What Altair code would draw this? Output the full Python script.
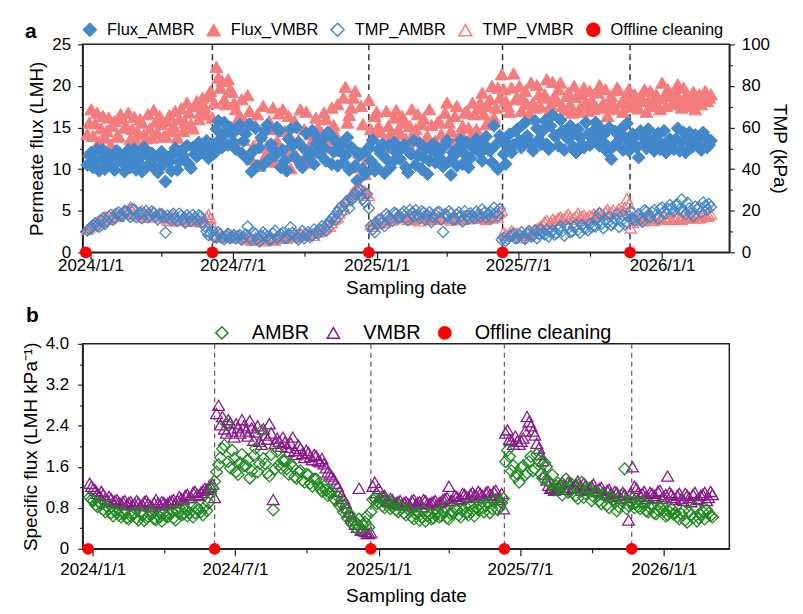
import altair as alt
import pandas as pd

# ---------------- data ----------------
# main samples: every 5 days from 2023-12-28; "mid" samples: the days in between
flux_ambr = [
    10.5, 12.0, 11.0, 9.8, 12.3, 10.6, 11.4, 9.9, 12.0, 10.8,
    11.6, 10.2, 12.4, 10.9, 9.7, 11.8, 10.5, 11.2, 9.6, 12.1,
    8.5, 10.8, 11.9, 9.9, 12.2, 11.0, 10.6, 12.6, 11.5, 12.9,
    12.2, 11.3, 13.0, 14.8, 13.6, 15.6, 12.9, 14.2, 12.4, 15.3,
    13.4, 11.2, 9.7, 14.9, 12.6, 10.5, 15.3, 13.0, 11.6, 14.6,
    12.3, 9.8, 14.8, 11.5, 13.2, 10.2, 14.3, 12.0, 10.6, 13.7,
    13.5, 11.0, 14.2, 12.1, 10.4, 13.0, 11.6, 9.9, 12.4, 8.6,
    11.8, 9.4, 12.6, 13.5, 10.2, 11.9, 9.5, 12.8, 10.8, 12.0,
    11.2, 12.9, 9.6, 11.8, 10.5, 13.1, 11.4, 9.4, 12.3, 10.8,
    12.0, 10.3, 13.4, 9.3, 11.7, 12.6, 10.6, 13.2, 11.3, 12.5,
    12.8, 11.0, 13.9, 12.2, 15.2, 10.0, 13.5, 10.6, 14.2, 12.9,
    14.8, 12.6, 15.6, 13.3, 12.2, 14.9, 13.0, 15.8, 12.4, 16.5,
    14.0, 15.9, 12.3, 13.6, 14.5, 12.0, 13.8, 12.6, 14.2, 13.1,
    15.6, 12.8, 14.1, 12.1, 11.2, 14.5, 13.4, 12.3, 15.5, 13.0,
    13.8, 11.4, 14.0, 12.5, 13.5, 12.2, 14.3, 13.0, 12.0, 13.6,
    12.4, 14.9, 13.2, 12.0, 14.4, 12.8, 13.7, 12.3, 13.9, 12.9,
]
flux_ambr_mid = [
    11.6, 10.2, 12.4, 11.2, 10.0, 11.8, 10.3, 12.2, 11.0, 9.7,
    12.3, 11.0, 9.9, 11.5, 12.6, 10.4, 11.9, 10.0, 11.4, 10.6,
    11.3, 9.8, 12.5, 10.9, 11.6, 12.8, 10.1, 11.8, 13.2, 12.0,
    13.4, 12.8, 11.9, 15.8, 12.6, 14.4, 15.0, 13.2, 14.9, 11.9,
    14.2, 15.4, 12.2, 10.4, 13.8, 14.6, 11.2, 12.4, 15.0, 10.2,
    11.0, 13.6, 12.8, 15.0, 10.6, 12.4, 11.4, 14.6, 13.0, 11.8,
    12.6, 14.4, 10.6, 13.4, 12.2, 10.8, 13.8, 12.6, 10.4, 11.6,
    10.0, 12.2, 11.0, 9.8, 12.4, 13.0, 11.2, 10.2, 13.2, 11.4,
    12.6, 10.2, 11.9, 13.4, 11.6, 10.0, 12.4, 11.0, 13.0, 11.8,
    11.2, 12.8, 10.9, 12.0, 10.4, 13.5, 11.8, 10.2, 12.6, 13.6,
    11.9, 13.0, 12.4, 10.8, 12.9, 14.0, 11.8, 13.0, 12.0, 14.6,
    13.4, 15.4, 14.0, 12.8, 15.8, 13.6, 14.6, 13.0, 15.2, 14.0,
    12.8, 14.6, 13.9, 15.2, 12.6, 14.8, 13.0, 15.6, 12.9, 14.6,
    13.6, 14.8, 13.0, 15.0, 12.7, 13.2, 14.8, 13.8, 12.2, 14.2,
    12.6, 14.6, 13.2, 14.8, 12.8, 13.9, 12.4, 14.6, 13.3, 12.6,
    13.6, 12.2, 14.4, 13.5, 12.6, 14.1, 12.9, 14.4, 12.6, 13.4,
]
flux_vmbr = [
    14.2, 17.2, 15.5, 13.3, 16.4, 14.6, 12.9, 15.8, 14.0, 16.0,
    15.1, 13.6, 16.3, 14.4, 15.6, 13.7, 14.9, 17.1, 14.3, 15.4,
    14.0, 16.5, 15.2, 13.8, 17.3, 15.6, 16.8, 14.9, 18.2, 16.9,
    17.5, 18.8, 16.2, 22.3, 19.8, 18.4, 20.8, 19.3, 17.2, 16.4,
    13.5, 18.9, 11.2, 15.3, 10.4, 17.6, 12.6, 14.8, 10.9, 16.7,
    17.2, 12.3, 10.1, 15.8, 13.5, 11.0, 16.9, 14.2, 12.0, 15.0,
    14.4, 16.0, 12.6, 15.3, 17.8, 13.2, 19.9, 16.5, 18.6, 10.2,
    17.6, 9.4, 18.3, 13.8, 16.9, 14.5, 12.6, 15.2, 13.0, 17.1,
    14.2, 15.6, 13.1, 17.2, 14.8, 12.4, 16.1, 14.0, 15.3, 13.4,
    15.8, 13.2, 18.0, 14.6, 16.4, 12.5, 15.2, 17.0, 13.9, 16.6,
    17.3, 19.2, 15.4, 18.4, 16.2, 19.8, 21.4, 18.2, 16.9, 21.5,
    18.6, 17.0, 19.4, 16.7, 18.0, 20.1, 17.5, 19.0, 16.8, 20.5,
    18.2, 20.4, 17.1, 19.2, 16.8, 18.7, 17.4, 19.8, 17.0, 18.3,
    17.6, 20.1, 18.0, 16.4, 18.8, 17.2, 19.5, 16.9, 18.4, 17.5,
    19.0, 17.3, 18.2, 16.9, 19.4, 17.8, 18.5, 20.4, 17.6, 18.9,
    18.0, 20.2, 17.4, 18.8, 17.6, 19.3, 18.1, 17.8, 19.4, 18.6,
]
flux_vmbr_mid = [
    15.6, 14.0, 16.8, 14.9, 13.8, 16.2, 15.2, 13.9, 16.6, 15.0,
    16.8, 14.8, 13.4, 16.0, 14.2, 16.6, 13.8, 15.7, 16.4, 13.9,
    15.8, 14.6, 17.0, 16.0, 14.6, 18.0, 15.4, 17.6, 16.0, 18.6,
    16.6, 19.4, 18.0, 21.0, 20.6, 17.8, 19.6, 18.0, 16.0, 18.4,
    15.6, 17.0, 12.8, 16.6, 14.0, 11.6, 15.8, 17.4, 13.4, 12.2,
    14.6, 16.4, 13.4, 11.6, 17.2, 14.8, 10.8, 13.4, 16.2, 12.8,
    16.8, 13.6, 17.4, 14.2, 12.2, 18.6, 15.6, 17.4, 19.4, 12.0,
    15.4, 11.2, 14.8, 16.4, 15.2, 12.4, 17.0, 14.2, 16.2, 14.8,
    16.4, 13.6, 15.2, 14.4, 16.6, 15.4, 13.6, 17.2, 12.8, 15.6,
    14.2, 16.8, 15.6, 13.2, 17.6, 14.4, 16.8, 15.0, 18.0, 14.8,
    18.0, 16.6, 17.6, 20.0, 17.4, 18.6, 19.6, 17.6, 19.8, 18.4,
    20.0, 18.4, 17.8, 20.4, 17.4, 19.0, 18.6, 20.8, 17.8, 18.8,
    19.6, 17.6, 18.8, 17.8, 20.0, 16.9, 19.0, 18.0, 19.4, 17.2,
    19.2, 17.4, 19.6, 17.6, 17.8, 19.8, 18.0, 18.6, 19.6, 18.2,
    17.6, 18.8, 19.6, 18.2, 17.6, 19.0, 17.2, 18.8, 19.6, 17.8,
    19.2, 18.4, 19.8, 17.6, 18.6, 17.2, 19.0, 18.4, 18.2, 19.0,
]
tmp_ambr = [
    10.5, 11.8, 14.0, 12.2, 16.5, 15.0, 18.0, 16.3, 19.2, 17.4,
    19.5, 17.0, 20.6, 18.2, 16.4, 19.8, 17.5, 18.9, 15.8, 18.4,
    9.5, 16.2, 18.5, 15.0, 17.6, 14.2, 16.8, 18.0, 15.4, 17.2,
    12.6, 8.2, 10.2, 7.0, 8.6, 6.3, 8.9, 7.4, 6.6, 8.2,
    7.2, 12.4, 6.0, 8.8, 5.2, 9.6, 7.6, 6.4, 10.4, 7.8,
    9.4, 7.0, 12.0, 8.2, 6.2, 10.2, 8.6, 7.2, 11.0, 9.0,
    12.5, 10.4, 14.8, 17.2, 19.6, 22.0, 23.8, 21.2, 26.0, 29.5,
    27.4, 24.0, 21.2, 11.0, 13.8, 16.0, 12.6, 17.2, 15.0, 18.5,
    17.0, 19.6, 15.4, 18.8, 20.2, 16.6, 19.0, 17.8, 14.6, 18.2,
    19.4, 9.8, 17.2, 18.6, 16.0, 19.2, 14.8, 17.6, 18.8, 16.4,
    18.0, 20.6, 16.8, 19.4, 21.4, 17.6, 6.0, 5.4, 7.4, 8.8,
    7.0, 9.6, 6.4, 10.2, 8.0, 6.8, 11.0, 8.6, 7.6, 10.4,
    9.2, 12.4, 8.0, 11.6, 10.0, 13.2, 9.4, 11.8, 10.6, 12.0,
    12.4, 18.8, 11.6, 14.2, 13.0, 16.0, 12.2, 17.8, 14.6, 19.6,
    15.2, 18.4, 14.6, 19.6, 17.0, 20.4, 16.2, 21.6, 18.6, 22.8,
    19.8, 23.0, 25.4, 18.4, 21.2, 17.4, 20.6, 19.2, 22.4, 23.2,
]
tmp_ambr_mid = [
    11.2, 13.0, 12.8, 15.2, 13.6, 17.0, 15.6, 18.6, 17.8, 19.6,
    18.0, 20.8, 16.8, 19.0, 18.6, 16.8, 19.6, 17.2, 18.2, 17.0,
    17.6, 15.4, 16.4, 18.6, 16.0, 17.8, 15.0, 16.6, 17.8, 14.6,
    10.0, 9.0, 7.4, 9.6, 7.0, 7.8, 6.8, 8.2, 7.8, 6.0,
    8.6, 7.0, 9.4, 6.6, 7.8, 8.6, 5.8, 9.0, 7.0, 8.8,
    6.8, 8.8, 9.4, 7.0, 8.6, 6.8, 9.8, 8.0, 9.6, 11.0,
    11.6, 13.2, 16.0, 15.6, 21.0, 19.8, 24.8, 25.4, 28.0, 30.4,
    25.6, 28.0, 12.6, 9.6, 15.6, 14.2, 18.4, 16.2, 19.0, 16.6,
    18.6, 16.2, 20.4, 17.2, 18.0, 19.8, 15.6, 19.4, 17.0, 19.2,
    15.8, 18.4, 19.8, 15.6, 18.0, 17.2, 19.8, 16.2, 17.4, 19.6,
    17.2, 19.0, 18.2, 16.6, 19.0, 20.8, 7.0, 6.4, 8.2, 6.6,
    8.4, 7.2, 9.0, 7.6, 10.6, 8.8, 9.4, 10.8, 9.6, 8.4,
    11.0, 10.2, 12.8, 9.6, 12.2, 10.8, 13.0, 11.4, 13.6, 12.6,
    16.4, 13.6, 15.4, 17.0, 14.0, 18.2, 15.0, 13.4, 17.4, 16.4,
    17.2, 16.0, 20.2, 18.0, 19.2, 18.0, 21.0, 19.6, 20.8, 21.2,
    22.6, 20.6, 19.6, 23.8, 19.0, 22.0, 21.8, 24.0, 20.4, 21.8,
]
tmp_vmbr = [
    11.0, 12.6, 13.4, 15.2, 15.8, 17.0, 16.6, 18.4, 17.2, 19.0,
    18.6, 21.8, 19.0, 17.4, 20.2, 18.0, 16.8, 19.4, 17.6, 18.2,
    16.4, 15.0, 17.8, 16.0, 15.6, 16.8, 14.8, 15.6, 16.2, 14.6,
    15.6, 18.2, 13.0, 8.0, 7.6, 7.4, 8.8, 8.2, 7.8, 7.2,
    7.0, 8.4, 5.6, 7.2, 6.0, 7.8, 6.4, 6.8, 5.8, 7.4,
    7.6, 6.6, 8.4, 7.2, 9.0, 7.8, 8.6, 9.4, 8.0, 9.6,
    10.2, 11.8, 12.4, 15.6, 17.0, 20.4, 24.6, 26.2, 29.0, 28.2,
    30.6, 29.4, 27.2, 12.4, 13.6, 15.0, 14.2, 16.2, 15.4, 17.0,
    16.8, 18.0, 15.6, 17.4, 16.2, 15.0, 17.6, 16.4, 18.6, 15.8,
    17.2, 16.0, 18.4, 15.4, 16.8, 17.6, 15.8, 16.6, 17.8, 16.2,
    16.4, 17.8, 15.6, 17.0, 18.6, 16.8, 20.2, 8.6, 9.2, 9.8,
    9.4, 7.0, 8.2, 10.0, 9.0, 11.2, 12.6, 14.6, 13.4, 16.0,
    15.4, 17.0, 16.2, 18.4, 15.8, 17.6, 16.8, 18.0, 16.4, 17.2,
    17.8, 19.2, 18.0, 20.6, 19.4, 18.6, 21.0, 20.0, 25.8, 11.6,
    15.6, 16.8, 15.0, 17.2, 16.0, 15.4, 17.6, 16.2, 15.8, 17.0,
    16.4, 17.4, 15.8, 17.0, 18.2, 16.6, 17.8, 16.8, 18.0, 17.6,
]
tmp_vmbr_mid = [
    11.8, 13.0, 14.6, 14.6, 17.2, 16.0, 18.0, 17.6, 18.8, 20.4,
    20.6, 19.8, 18.2, 19.4, 17.0, 19.2, 18.4, 17.8, 19.0, 16.8,
    15.4, 17.0, 16.6, 15.2, 16.8, 15.8, 16.4, 14.8, 15.8, 16.6,
    17.0, 16.4, 8.4, 7.2, 8.2, 7.0, 7.8, 8.6, 7.0, 6.8,
    6.4, 7.6, 6.2, 6.6, 7.0, 5.4, 7.2, 6.0, 6.8, 6.6,
    7.0, 8.0, 7.6, 8.6, 8.2, 9.2, 8.0, 9.0, 9.8, 10.6,
    11.0, 13.2, 14.2, 16.4, 18.8, 22.4, 25.2, 27.8, 30.0, 31.0,
    29.8, 28.4, 13.2, 14.8, 14.0, 15.8, 15.0, 16.6, 16.0, 17.6,
    17.2, 16.6, 16.8, 15.6, 17.8, 16.2, 17.0, 15.6, 17.2, 16.6,
    16.4, 17.6, 16.2, 17.2, 16.0, 15.6, 17.4, 16.0, 16.8, 17.4,
    17.0, 16.2, 18.2, 16.4, 17.6, 19.4, 9.6, 8.0, 10.4, 9.0,
    8.6, 8.0, 9.6, 9.0, 10.4, 12.0, 13.6, 15.4, 14.6, 15.2,
    16.6, 15.8, 17.4, 17.0, 16.6, 18.8, 17.4, 16.8, 17.8, 18.6,
    18.4, 18.2, 19.6, 19.0, 20.4, 19.8, 20.2, 21.6, 23.4, 14.2,
    16.2, 15.8, 16.6, 16.4, 15.2, 16.8, 16.0, 17.0, 16.6, 15.6,
    17.0, 16.2, 17.6, 16.4, 17.2, 17.8, 16.4, 18.2, 17.2, 18.4,
]
sf_ambr = [
    1.00, 0.94, 0.82, 0.88, 0.72, 0.78, 0.64, 0.70, 0.62, 0.68,
    0.58, 0.66, 0.60, 0.72, 0.55, 0.63, 0.68, 0.57, 0.62, 0.70,
    0.62, 0.74, 0.56, 0.80, 0.68, 0.64, 0.86, 0.70, 0.76, 0.66,
    0.74, 1.08, 1.32, 1.64, 1.95, 2.44, 1.58, 1.76, 1.45, 1.84,
    1.62, 1.38, 1.82, 1.50, 2.30, 1.66, 1.42, 0.76, 1.90, 1.58,
    1.72, 1.45, 1.60, 1.38, 1.52, 1.30, 1.44, 1.22, 1.36, 1.18,
    1.22, 1.04, 1.12, 0.94, 0.84, 0.72, 0.60, 0.50, 0.42, 0.58,
    0.46, 0.64, 0.72, 0.98, 0.90, 0.84, 0.96, 0.78, 0.86, 0.72,
    0.80, 0.66, 0.74, 0.58, 0.70, 0.62, 0.54, 0.68, 0.60, 0.72,
    0.64, 0.82, 0.58, 0.70, 0.76, 0.62, 0.84, 0.66, 0.74, 0.80,
    0.88, 0.72, 0.90, 0.78, 0.96, 0.82, 0.98, 1.92, 1.52, 1.40,
    1.30, 1.62, 1.48, 1.80, 1.56, 1.72, 1.38, 1.60, 1.26, 1.15,
    1.28, 1.05, 1.36, 1.12, 1.22, 0.98, 1.30, 1.08, 1.18, 1.02,
    1.10, 0.88, 1.02, 0.80, 0.96, 0.74, 1.04, 1.56, 0.84, 0.98,
    0.90, 0.78, 0.86, 0.72, 0.84, 0.68, 0.80, 0.74, 0.66, 0.78,
    0.70, 0.58, 0.74, 0.52, 0.66, 0.82, 0.60, 0.72, 0.76, 0.64,
]
sf_ambr_mid = [
    0.96, 0.86, 0.90, 0.76, 0.82, 0.70, 0.74, 0.66, 0.72, 0.60,
    0.64, 0.70, 0.56, 0.66, 0.60, 0.74, 0.58, 0.66, 0.54, 0.64,
    0.68, 0.60, 0.72, 0.66, 0.78, 0.70, 0.62, 0.80, 0.72, 0.82,
    0.90, 1.18, 1.50, 1.78, 2.02, 1.70, 1.92, 1.50, 1.68, 1.62,
    1.74, 1.52, 1.96, 1.66, 1.76, 1.48, 1.84, 1.56, 1.64, 1.72,
    1.56, 1.66, 1.40, 1.50, 1.34, 1.46, 1.28, 1.36, 1.26, 1.12,
    1.14, 1.10, 0.98, 1.02, 0.88, 0.78, 0.68, 0.56, 0.48, 0.38,
    0.52, 0.42, 0.96, 0.88, 0.98, 0.80, 0.90, 0.82, 0.76, 0.84,
    0.70, 0.78, 0.62, 0.68, 0.56, 0.74, 0.64, 0.58, 0.66, 0.62,
    0.72, 0.60, 0.68, 0.80, 0.66, 0.74, 0.70, 0.86, 0.64, 0.76,
    0.80, 0.84, 0.70, 0.92, 0.76, 0.90, 1.70, 1.80, 1.62, 1.46,
    1.58, 1.44, 1.70, 1.52, 1.84, 1.46, 1.68, 1.32, 1.44, 1.22,
    1.16, 1.24, 1.10, 1.26, 1.04, 1.18, 1.00, 1.14, 0.94, 1.10,
    0.94, 1.06, 0.86, 1.00, 0.90, 0.82, 0.92, 0.78, 0.90, 0.80,
    0.82, 0.92, 0.74, 0.80, 0.70, 0.76, 0.86, 0.64, 0.72, 0.68,
    0.62, 0.68, 0.56, 0.72, 0.60, 0.54, 0.66, 0.58, 0.70, 0.62,
]
sf_vmbr = [
    1.28, 1.18, 1.08, 1.12, 0.98, 1.02, 0.92, 0.96, 0.88, 0.94,
    0.90, 0.86, 0.94, 0.84, 0.92, 0.88, 0.82, 0.96, 0.86, 0.90,
    0.88, 0.94, 0.90, 1.02, 0.96, 1.06, 1.00, 1.12, 1.04, 1.14,
    1.16, 1.22, 1.00, 2.80, 2.58, 2.26, 2.46, 2.18, 2.36, 2.52,
    2.30, 2.50, 2.12, 2.40, 2.04, 2.22, 2.44, 0.96, 2.16, 2.00,
    2.08, 1.90, 2.18, 1.84, 1.96, 1.78, 1.88, 1.74, 1.82, 1.70,
    1.66, 1.50, 1.42, 1.28, 1.12, 0.98, 0.80, 0.64, 0.48, 1.18,
    0.38, 0.30, 0.32, 1.30, 1.18, 1.04, 0.94, 0.98, 0.88, 0.92,
    0.86, 0.92, 0.84, 0.96, 0.90, 0.82, 0.94, 0.88, 0.92, 0.86,
    0.92, 0.98, 1.22, 0.94, 1.02, 0.96, 1.06, 1.00, 1.10, 1.04,
    1.08, 1.00, 1.12, 1.04, 1.14, 0.96, 0.78, 2.32, 2.12, 2.20,
    2.04, 2.16, 2.58, 2.40, 2.22, 1.96, 1.72, 1.34, 1.18, 1.14,
    1.22, 1.30, 1.16, 1.28, 1.20, 1.32, 1.14, 1.24, 1.18, 1.26,
    1.12, 1.20, 1.06, 1.16, 1.02, 1.10, 0.98, 1.06, 0.56, 1.60,
    1.18, 1.04, 1.12, 0.98, 1.08, 1.00, 1.14, 1.02, 1.42, 1.06,
    0.96, 1.08, 0.94, 1.04, 0.92, 1.10, 0.98, 1.06, 0.94, 1.12,
]
sf_vmbr_mid = [
    1.22, 1.14, 1.04, 1.06, 0.96, 0.98, 0.94, 0.90, 0.92, 0.86,
    0.92, 0.88, 0.90, 0.86, 0.94, 0.84, 0.90, 0.88, 0.92, 0.86,
    0.92, 0.96, 0.94, 0.98, 1.04, 1.00, 1.10, 1.06, 1.10, 1.18,
    1.20, 1.26, 2.64, 2.42, 2.34, 2.52, 2.30, 2.44, 2.26, 2.40,
    2.20, 2.36, 2.28, 2.10, 2.34, 2.14, 2.26, 2.06, 2.10, 2.18,
    1.98, 2.06, 1.92, 2.02, 1.86, 1.92, 1.80, 1.84, 1.72, 1.76,
    1.58, 1.46, 1.36, 1.22, 1.04, 0.90, 0.72, 0.56, 0.42, 0.36,
    0.34, 0.30, 1.22, 1.10, 1.00, 1.04, 0.92, 0.96, 0.90, 0.94,
    0.90, 0.88, 0.94, 0.86, 0.92, 0.96, 0.88, 0.90, 0.94, 0.90,
    0.96, 1.00, 0.94, 1.04, 0.98, 1.08, 1.02, 1.06, 1.04, 1.12,
    1.04, 1.10, 1.06, 1.12, 1.00, 1.08, 2.26, 2.14, 2.04, 2.10,
    2.10, 2.30, 2.48, 2.30, 2.06, 1.84, 1.46, 1.24, 1.20, 1.16,
    1.26, 1.20, 1.30, 1.18, 1.26, 1.22, 1.28, 1.16, 1.22, 1.14,
    1.18, 1.10, 1.14, 1.08, 1.12, 1.04, 1.10, 1.00, 1.08, 1.22,
    1.10, 1.08, 1.02, 1.10, 1.04, 1.12, 0.98, 1.06, 1.10, 1.00,
    1.04, 0.98, 1.08, 1.00, 1.06, 0.96, 1.04, 1.10, 1.00, 1.06,
]
cleaning_dates = ["2023-12-26", "2024-06-05", "2024-12-22", "2025-06-11", "2025-11-21"]
series_a = ["Flux_AMBR", "Flux_VMBR", "TMP_AMBR", "TMP_VMBR", "Offline cleaning"]
series_b = ["AMBR", "VMBR", "Offline cleaning"]
flux_ticks = [0, 2.5, 5, 7.5, 10, 12.5, 15, 17.5, 20, 22.5, 25]
tmp_ticks = [0, 10, 20, 30, 40, 50, 60, 70, 80, 90, 100]
sf_ticks = [0, 0.4, 0.8, 1.2, 1.6, 2.0, 2.4, 2.8, 3.2, 3.6, 4.0]
quarters = [(2024, 1), (2024, 4), (2024, 7), (2024, 10), (2025, 1),
            (2025, 4), (2025, 7), (2025, 10), (2026, 1)]

# ---------------- styling ----------------
FONT = "Liberation Sans"
BLUE = "#4288CA"
PINK = "#F47C7C"
RED = "#FF0000"
GREEN = "#1F8B1F"
PURPLE = "#8C1A8C"

n = len(flux_ambr)
dates_main = pd.date_range("2023-12-28", periods=n, freq="5D")
dates_mid = pd.date_range("2023-12-30 12:00", periods=n, freq="5D")


def long(triples):
    frames = []
    for name, main, mid in triples:
        frames.append(pd.DataFrame({"date": dates_main, "value": main, "series": name}))
        frames.append(pd.DataFrame({"date": dates_mid, "value": mid, "series": name}))
    return pd.concat(frames, ignore_index=True)


flux_df = long([("Flux_VMBR", flux_vmbr, flux_vmbr_mid), ("Flux_AMBR", flux_ambr, flux_ambr_mid)])
tmp_df = long([("TMP_VMBR", tmp_vmbr, tmp_vmbr_mid), ("TMP_AMBR", tmp_ambr, tmp_ambr_mid)])
sf_df = long([("VMBR", sf_vmbr, sf_vmbr_mid), ("AMBR", sf_ambr, sf_ambr_mid)])
clean_df = pd.DataFrame({"date": pd.to_datetime(cleaning_dates), "value": 0.0, "series": "Offline cleaning"})
rule_df = clean_df.iloc[1:][["date"]]


def x_enc(d0, d1, label_pad, title_pad):
    return alt.X(
        "date:T",
        title="Sampling date",
        scale=alt.Scale(domain=[alt.DateTime(year=d0[0], month=d0[1], date=d0[2]),
                                alt.DateTime(year=d1[0], month=d1[1], date=d1[2])], nice=False),
        axis=alt.Axis(
            values=[alt.DateTime(year=y, month=m, date=1) for y, m in quarters],
            format="%Y/%-m/%-d",
            labelExpr="month(datum.value) % 6 == 0 ? datum.label : ''",
            tickSize={"condition": {"test": "month(datum.value) % 6 != 0", "value": 4}, "value": 7},
            labelPadding=label_pad,
            titlePadding=title_pad,
        ),
    )


def style(domain, fills, strokes, shapes, legend):
    return dict(
        fill=alt.Fill("series:N", title=None, scale=alt.Scale(domain=domain, range=fills), legend=legend),
        stroke=alt.Stroke("series:N", title=None, scale=alt.Scale(domain=domain, range=strokes), legend=legend),
        shape=alt.Shape("series:N", title=None, scale=alt.Scale(domain=domain, range=shapes), legend=legend),
    )


# ---------------- panel a ----------------
xa = x_enc((2023, 12, 22), (2026, 3, 28), -2, 5)
leg_a = alt.Legend(orient="none", legendX=-1, legendY=-23, direction="horizontal",
                   labelFontSize=16.5, labelFont=FONT, labelColor="black",
                   symbolSize=170, symbolStrokeWidth=1.5, labelOffset=9,
                   columnPadding=8.5, padding=0)
enc_a = style(series_a,
              [BLUE, PINK, "transparent", "transparent", RED],
              [BLUE, PINK, BLUE, PINK, RED],
              ["diamond", "triangle-up", "diamond", "triangle-up", "circle"],
              leg_a)
y_left = alt.Y("value:Q", title="Permeate flux (LMH)",
               scale=alt.Scale(domain=[0, 25], nice=False),
               axis=alt.Axis(values=flux_ticks, format="d",
                             labelExpr="datum.value % 5 == 0 ? datum.label : ''",
                             tickSize={"condition": {"test": "datum.value % 5 != 0", "value": 3}, "value": 5},
                             labelPadding=7, titlePadding=5))
y_right = alt.Y("value:Q", title="TMP (kPa)",
                scale=alt.Scale(domain=[0, 100], nice=False),
                axis=alt.Axis(orient="right", values=tmp_ticks, format="d",
                              labelExpr="datum.value % 20 == 0 ? datum.label : ''",
                              tickSize={"condition": {"test": "datum.value % 20 != 0", "value": 3}, "value": 5},
                              labelPadding=7, titlePadding=0))

letter_a = pd.DataFrame({"t": ["a"]})
inner_a = alt.layer(
    alt.Chart(rule_df).mark_rule(strokeDash=[6, 4], color="#333333", strokeWidth=1.5).encode(x=xa),
    alt.Chart(flux_df).mark_point(size=170, opacity=1, strokeWidth=1).encode(x=xa, y=y_left, **enc_a),
    alt.Chart(clean_df).mark_point(size=140, opacity=1, strokeWidth=0).encode(x=xa, y=y_left, **enc_a),
    alt.Chart(letter_a).mark_text(font=FONT, fontSize=21, fontWeight="bold", align="left",
                                  baseline="alphabetic", color="black").encode(
        text="t:N", x=alt.value(-58), y=alt.value(-6)),
)
tmp_layer = alt.Chart(tmp_df).mark_point(size=125, opacity=1, strokeWidth=1.3).encode(
    x=xa, y=y_right, **enc_a)
panel_a = alt.layer(inner_a, tmp_layer).resolve_scale(y="independent").properties(width=650, height=209)

# ---------------- panel b ----------------
xb = x_enc((2023, 12, 19), (2026, 3, 26), 6, 9)
leg_b = alt.Legend(orient="none", legendX=130, legendY=-21, direction="horizontal",
                   labelFontSize=20, labelFont=FONT, labelColor="black",
                   symbolSize=150, symbolStrokeWidth=1.5, labelOffset=20,
                   columnPadding=14, padding=0)
enc_b = style(series_b,
              ["transparent", "transparent", RED],
              [GREEN, PURPLE, RED],
              ["diamond", "triangle-up", "circle"],
              leg_b)
sf_lab = "abs(datum.value - round(datum.value / 0.8) * 0.8) < 0.01"
y_b = alt.Y("value:Q", title="Specific flux (LMH kPa\u207b\u00b9)",
            scale=alt.Scale(domain=[0, 4], nice=False),
            axis=alt.Axis(values=sf_ticks,
                          labelExpr=f"{sf_lab} ? (datum.value == 0 ? '0' : format(datum.value, '.1f')) : ''",
                          tickSize={"condition": {"test": f"!({sf_lab})", "value": 3}, "value": 5},
                          labelPadding=9, titlePadding=5))
letter_b = pd.DataFrame({"t": ["b"]})
panel_b = alt.layer(
    alt.Chart(rule_df).mark_rule(strokeDash=[5, 4], color="#666666", strokeWidth=1.3).encode(x=xb),
    alt.Chart(sf_df).mark_point(size=140, opacity=1, strokeWidth=1.3).encode(x=xb, y=y_b, **enc_b),
    alt.Chart(clean_df).mark_point(size=140, opacity=1, strokeWidth=0).encode(x=xb, y=y_b, **enc_b),
    alt.Chart(letter_b).mark_text(font=FONT, fontSize=21, fontWeight="bold", align="left",
                                  baseline="alphabetic", color="black").encode(
        text="t:N", x=alt.value(-57), y=alt.value(-22)),
).properties(width=650, height=206)

chart = (
    alt.vconcat(panel_a, panel_b, spacing=6)
    .resolve_scale(x="independent", fill="independent", stroke="independent", shape="independent")
    .resolve_legend(fill="independent", stroke="independent", shape="independent")
    .properties(padding={"left": 12, "top": 11, "right": 5, "bottom": 5})
    .configure(font=FONT)
    .configure_view(stroke="#222222", strokeWidth=1.5)
    .configure_axis(labelFont=FONT, titleFont=FONT, labelFontSize=17, titleFontSize=19,
                    titleFontWeight="normal", labelColor="black", titleColor="black",
                    domainColor="#222222", tickColor="#222222", domainWidth=1.5,
                    tickWidth=1.2, grid=False)
)

chart.save("out.html", embed_options={"renderer": "svg", "actions": False})
